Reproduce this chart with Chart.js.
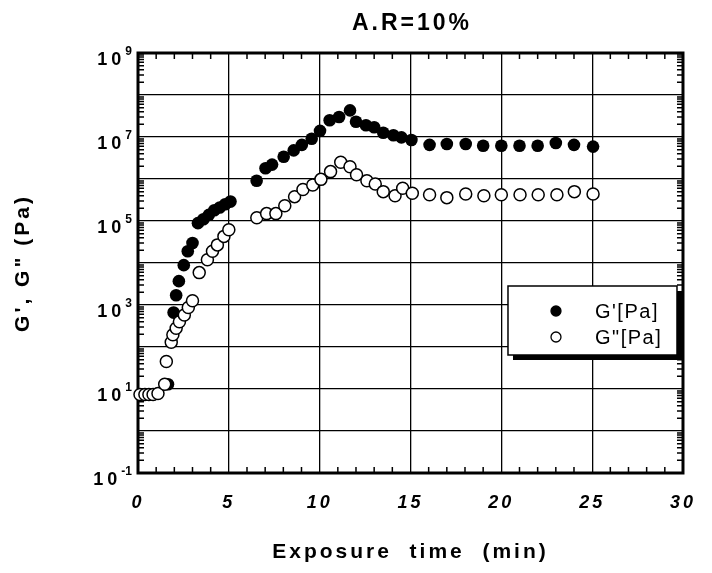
<!DOCTYPE html>
<html>
<head>
<meta charset="utf-8">
<title>A.R=10%</title>
<script src="https://cdn.jsdelivr.net/npm/chart.js@4.4.1/dist/chart.umd.min.js"></script>
<style>
  html, body { margin: 0; padding: 0; background: #fff; }
  #wrap { width: 712px; height: 573px; }
</style>
</head>
<body>
<div id="wrap"><canvas id="grChart" width="712" height="573"></canvas></div>
<script>
// values: exposure time (min) and modulus (Pa)
const storageTime = [1.65, 1.96, 2.10, 2.25, 2.52, 2.74, 3.00, 3.30, 3.60, 3.90, 4.20, 4.50, 4.80, 5.09,
  6.53, 7.02, 7.38, 8.02, 8.57, 9.02, 9.56, 10.02, 10.55, 11.07, 11.67, 12.0, 12.55, 13.0, 13.5,
  14.06, 14.5, 15.05, 16.05, 17.0, 18.04, 19.0, 20.0, 21.0, 22.0, 23.0, 24.0, 25.05];
const storageModulus = [1.3e1, 6.6e2, 1.7e3, 3.7e3, 8.9e3, 1.9e4, 3.0e4, 8.9e4, 1.1e5, 1.4e5, 1.8e5, 2.1e5, 2.5e5, 2.9e5,
  9.1e5, 1.8e6, 2.2e6, 3.4e6, 4.8e6, 6.5e6, 9.1e6, 1.4e7, 2.5e7, 3.0e7, 4.3e7, 2.3e7, 1.9e7, 1.7e7, 1.26e7,
  1.1e7, 9.8e6, 8.5e6, 6.5e6, 6.8e6, 6.8e6, 6.2e6, 6.2e6, 6.2e6, 6.2e6, 7.2e6, 6.5e6, 5.9e6];

const lossTime = [0.11, 0.38, 0.60, 0.83, 1.10, 1.47, 1.56, 1.83, 1.92, 2.10, 2.28, 2.55, 2.77, 3.00,
  3.37, 3.82, 4.10, 4.37, 4.73, 5.00, 6.54, 7.08, 7.59, 8.08, 8.62, 9.08, 9.62, 10.07, 10.6, 11.16,
  11.67, 12.03, 12.6, 13.06, 13.5, 14.15, 14.57, 15.1, 16.05, 17.0, 18.04, 19.04, 20.0, 21.03, 22.03,
  23.06, 24.02, 25.05];
const lossModulus = [7.4, 7.4, 7.4, 7.4, 7.8, 1.3e1, 4.5e1, 1.3e2, 1.95e2, 2.8e2, 4.0e2, 5.8e2, 8.7e2, 1.26e3,
  5.9e3, 1.2e4, 1.9e4, 2.7e4, 4.3e4, 6.2e4, 1.2e5, 1.5e5, 1.5e5, 2.3e5, 3.8e5, 5.6e5, 7.2e5, 9.8e5, 1.5e6, 2.5e6,
  1.95e6, 1.26e6, 9.1e5, 7.6e5, 5.0e5, 4.0e5, 6.0e5, 4.6e5, 4.2e5, 3.6e5, 4.4e5, 4.0e5, 4.2e5, 4.2e5, 4.2e5,
  4.2e5, 5.0e5, 4.4e5];

const chartTitle = 'A.R=10%';
const xMin = 0, xMax = 30, xStep = 5;
const yExponents = [-1, 0, 1, 2, 3, 4, 5, 6, 7, 8, 9];
const yLabelExponents = [-1, 1, 3, 5, 7, 9];

const FONT = '"Liberation Sans", Arial, Helvetica, sans-serif';

function toPoints(xs, ys) {
  return xs.map((x, i) => ({ x: x, y: ys[i] }));
}

// frame, inward minor ticks, power-of-ten labels, title and the boxed legend
const decorations = {
  id: 'decorations',
  beforeDraw(chart) {
    chart.ctx.letterSpacing = '3px';
  },
  beforeDatasetsDraw(chart) {
    const { ctx, chartArea: a, scales: { x, y } } = chart;
    ctx.save();
    ctx.strokeStyle = '#000';
    ctx.lineWidth = 1.5;
    ctx.beginPath();
    yExponents.slice(0, -1).forEach(e => {
      for (let m = 2; m <= 9; m++) {
        const py = y.getPixelForValue(m * Math.pow(10, e));
        ctx.moveTo(a.left, py); ctx.lineTo(a.left + 6, py);
        ctx.moveTo(a.right, py); ctx.lineTo(a.right - 6, py);
      }
    });
    for (let t = xMin + 1; t < xMax; t++) {
      if (t % xStep === 0) continue;
      const px = x.getPixelForValue(t);
      ctx.moveTo(px, a.top); ctx.lineTo(px, a.top + 6);
      ctx.moveTo(px, a.bottom); ctx.lineTo(px, a.bottom - 6);
    }
    ctx.stroke();
    ctx.lineWidth = 3;
    ctx.strokeRect(a.left, a.top, a.right - a.left, a.bottom - a.top);

    // y labels as 10 with a raised exponent
    ctx.fillStyle = '#000';
    ctx.textBaseline = 'middle';
    ctx.textAlign = 'right';
    yLabelExponents.forEach(e => {
      const py = y.getPixelForValue(Math.pow(10, e));
      ctx.letterSpacing = '0px';
      ctx.font = 'bold 12px ' + FONT;
      const expText = String(e);
      const expRight = a.left - 6;
      ctx.fillText(expText, expRight, py - 1);
      const expLeft = expRight - ctx.measureText(expText).width;
      ctx.letterSpacing = '4px';
      ctx.font = 'bold 18px ' + FONT;
      ctx.fillText('10', expLeft, py + 7);
    });

    ctx.letterSpacing = '3px';
    ctx.textAlign = 'center';
    ctx.font = 'bold 23px ' + FONT;
    ctx.fillText(chartTitle, (a.left + a.right) / 2 + 1.5, 24);
    ctx.restore();
  },
  afterDraw(chart) {
    const { ctx, chartArea: a } = chart;
    ctx.letterSpacing = '0px';
    ctx.save();
    const left = a.right - 175, top = a.top + 233, w = 169, h = 69;
    ctx.fillStyle = '#000';
    ctx.fillRect(left + 5, top + 5, w, h);
    ctx.fillStyle = '#fff';
    ctx.fillRect(left, top, w, h);
    ctx.lineWidth = 1.5;
    ctx.strokeStyle = '#000';
    ctx.strokeRect(left, top, w, h);

    ctx.letterSpacing = '1.5px';
    ctx.font = '20px ' + FONT;
    ctx.textBaseline = 'middle';
    ctx.textAlign = 'left';
    chart.data.datasets.forEach((ds, i) => {
      const cy = top + 25 + i * 26;
      ctx.beginPath();
      ctx.arc(left + 48, cy, 5, 0, Math.PI * 2);
      ctx.fillStyle = ds.pointBackgroundColor;
      ctx.fill();
      ctx.lineWidth = 1.3;
      ctx.stroke();
      ctx.fillStyle = '#000';
      ctx.fillText(ds.label, left + 87, cy + 1);
    });
    ctx.restore();
    ctx.letterSpacing = '0px';
  }
};

Chart.defaults.font.family = FONT;
Chart.defaults.color = '#000';

new Chart(document.getElementById('grChart'), {
  type: 'scatter',
  data: {
    datasets: [{
      label: "G'[Pa]",
      data: toPoints(storageTime, storageModulus),
      pointRadius: 6.3,
      pointBackgroundColor: '#000',
      pointBorderColor: '#000',
      pointBorderWidth: 0,
      order: 2,
      clip: false
    }, {
      label: 'G"[Pa]',
      data: toPoints(lossTime, lossModulus),
      pointRadius: 6,
      pointBackgroundColor: '#fff',
      pointBorderColor: '#000',
      pointBorderWidth: 1.5,
      order: 1,
      clip: false
    }]
  },
  options: {
    responsive: false,
    animation: false,
    layout: { padding: { top: 53, right: 24, bottom: 0, left: 0 } },
    plugins: {
      legend: { display: false },
      tooltip: { enabled: false },
      title: { display: false }
    },
    scales: {
      x: {
        type: 'linear',
        min: xMin,
        max: xMax,
        afterFit: scale => { scale.height = 100; },
        ticks: {
          stepSize: xStep,
          maxRotation: 0,
          padding: 19,
          font: { size: 18, weight: 'bold', style: 'italic' }
        },
        grid: { color: '#000', lineWidth: 1.3, drawTicks: false },
        border: { display: false },
        title: {
          display: true,
          text: 'Exposure  time  (min)',
          font: { size: 21, weight: 'bold' },
          padding: { bottom: 8 }
        }
      },
      y: {
        type: 'logarithmic',
        min: 0.1,
        max: 1e9,
        afterFit: scale => { scale.width = 138; },
        afterBuildTicks: scale => {
          scale.ticks = yExponents.map(e => ({ value: Math.pow(10, e) }));
        },
        ticks: { display: false, autoSkip: false },
        grid: { color: '#000', lineWidth: 1.3, drawTicks: false },
        border: { display: false },
        title: {
          display: true,
          text: 'G\', G" (Pa)',
          font: { size: 21, weight: 'bold' },
          padding: { top: 11 }
        }
      }
    }
  },
  plugins: [decorations]
});
</script>
</body>
</html>
